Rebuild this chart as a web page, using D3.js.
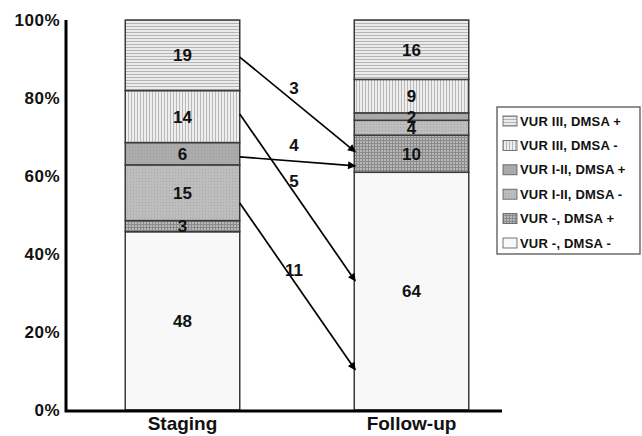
<!DOCTYPE html>
<html><head><meta charset="utf-8">
<script src="https://cdn.jsdelivr.net/npm/d3@7"></script>
<style>
html,body{margin:0;padding:0;background:#fff;}
text{font-family:Arial,"Liberation Sans",sans-serif;font-weight:bold;fill:#111;}
</style></head>
<body><svg id="c" width="642" height="436"></svg>
<script>
const categories = ["Staging", "Follow-up"];
const seriesNames = ["VUR -, DMSA -", "VUR -, DMSA +", "VUR I-II, DMSA -", "VUR I-II, DMSA +", "VUR III, DMSA -", "VUR III, DMSA +"];
const stagingValues = [48, 3, 15, 6, 14, 19];
const followUpValues = [64, 10, 4, 2, 9, 16];
const yTicks = [0, 0.2, 0.4, 0.6, 0.8, 1.0];
// transitions: label, start share (Staging side), end share (Follow-up side)
const arrowLabels = ["3", "4", "5", "11"];
const arrowFrom = [0.905, 0.649, 0.759, 0.531];
const arrowTo = [0.662, 0.626, 0.331, 0.103];

const svg = d3.select("#c");
const defs = svg.append("defs");

function pat(id, bg, draw) {
  const p = defs.append("pattern").attr("id", id).attr("patternUnits", "userSpaceOnUse")
    .attr("width", 3).attr("height", 3);
  p.append("rect").attr("width", 3).attr("height", 3).attr("fill", bg);
  draw(p);
}
pat("hl", "#ebebeb", p => p.append("rect").attr("x", 0).attr("y", 2).attr("width", 3).attr("height", 1).attr("fill", "#b4b4b4"));
pat("vl", "#eeeeee", p => p.append("rect").attr("x", 2).attr("y", 0).attr("width", 1).attr("height", 3).attr("fill", "#b8b8b8"));
pat("grid", "#b8b8b8", p => {
  p.append("rect").attr("x", 2).attr("y", 0).attr("width", 1).attr("height", 3).attr("fill", "#8a8a8a");
  p.append("rect").attr("x", 0).attr("y", 2).attr("width", 3).attr("height", 1).attr("fill", "#8a8a8a");
});
pat("dots", "#bdbdbd", p => p.append("rect").attr("x", 1).attr("y", 1).attr("width", 1).attr("height", 1).attr("fill", "#a9a9a9"));
pat("solid", "#ababab", p => p.append("rect").attr("x", 0).attr("y", 0).attr("width", 1).attr("height", 1).attr("fill", "#9f9f9f"));

const fills = ["#f8f8f8", "url(#grid)", "url(#dots)", "url(#solid)", "url(#vl)", "url(#hl)"];

const table = categories.map((c, i) => {
  const vals = i === 0 ? stagingValues : followUpValues;
  const o = { cat: c };
  seriesNames.forEach((s, j) => o[s] = vals[j]);
  return o;
});
const stack = d3.stack().keys(seriesNames).offset(d3.stackOffsetExpand);
const series = stack(table);

const x = d3.scaleBand().domain(categories).range([68, 526]).paddingInner(0.5).paddingOuter(0.25);
const y = d3.scaleLinear().domain([0, 1]).range([410, 20]);

// bars
const g = svg.append("g");
series.forEach((s, j) => {
  g.selectAll(null).data(s).join("rect")
    .attr("x", d => x(d.data.cat))
    .attr("y", d => y(d[1]))
    .attr("width", x.bandwidth())
    .attr("height", d => y(d[0]) - y(d[1]))
    .attr("fill", fills[j])
    .attr("stroke", "#3a3a3a")
    .attr("stroke-width", 1.5);
});
// segment labels
series.forEach((s, j) => {
  g.selectAll(null).data(s).join("text")
    .attr("x", d => x(d.data.cat) + x.bandwidth() / 2)
    .attr("y", d => (y(d[0]) + y(d[1])) / 2)
    .attr("dy", "0.36em")
    .attr("text-anchor", "middle")
    .attr("font-size", 17)
    .text(d => d.data[s.key]);
});

// axes
const yAxis = svg.append("g").attr("transform", "translate(66,0)")
  .call(d3.axisLeft(y).tickValues(yTicks).tickFormat(d3.format(".0%")).tickSize(0).tickPadding(6));
yAxis.select(".domain").remove();
yAxis.selectAll("text").attr("font-size", 17).style("letter-spacing", "0.5px")
  .style("font-family", "Arial, 'Liberation Sans', sans-serif").style("font-weight", "bold").attr("fill", "#111");

const xAxis = svg.append("g").attr("transform", "translate(0,411)")
  .call(d3.axisBottom(x).tickSize(0).tickPadding(6));
xAxis.select(".domain").remove();
xAxis.selectAll("text").attr("font-size", 19)
  .style("font-family", "Arial, 'Liberation Sans', sans-serif").style("font-weight", "bold").attr("fill", "#111");

svg.append("path").attr("d", `M66,${y(1)}V${y(0) + 1}H502`).attr("fill", "none")
  .attr("stroke", "#000").attr("stroke-width", 3);

// arrows
defs.append("marker").attr("id", "ah").attr("viewBox", "0 0 10 10").attr("refX", 9).attr("refY", 5)
  .attr("markerWidth", 9).attr("markerHeight", 8).attr("markerUnits", "userSpaceOnUse").attr("orient", "auto")
  .append("path").attr("d", "M0,0L10,5L0,10z").attr("fill", "#000");
const x0 = x("Staging") + x.bandwidth();
const x1 = x("Follow-up");
arrowLabels.forEach((lab, i) => {
  svg.append("line").attr("x1", x0).attr("y1", y(arrowFrom[i])).attr("x2", x1 + 1).attr("y2", y(arrowTo[i]))
    .attr("stroke", "#000").attr("stroke-width", 1.7).attr("marker-end", "url(#ah)");
  svg.append("text").attr("x", (x0 + x1) / 2 - 3).attr("y", (y(arrowFrom[i]) + y(arrowTo[i])) / 2 - 10)
    .attr("text-anchor", "middle").attr("font-size", 17).text(lab);
});

// legend
const lg = svg.append("g");
lg.append("rect").attr("x", 497).attr("y", 107).attr("width", 143).attr("height", 147)
  .attr("fill", "#fff").attr("stroke", "#555").attr("stroke-width", 1.3);
const legendOrder = seriesNames.slice().reverse();
legendOrder.forEach((name, i) => {
  const j = seriesNames.indexOf(name);
  const ly = 121 + i * 24.4;
  lg.append("rect").attr("x", 503).attr("y", ly - 5).attr("width", 14).attr("height", 10)
    .attr("fill", fills[j]).attr("stroke", "#555").attr("stroke-width", 0.8);
  lg.append("text").attr("x", 520).attr("y", ly).attr("dy", "0.36em").attr("font-size", 13)
    .style("letter-spacing", "0.2px").text(name);
});
</script></body></html>
